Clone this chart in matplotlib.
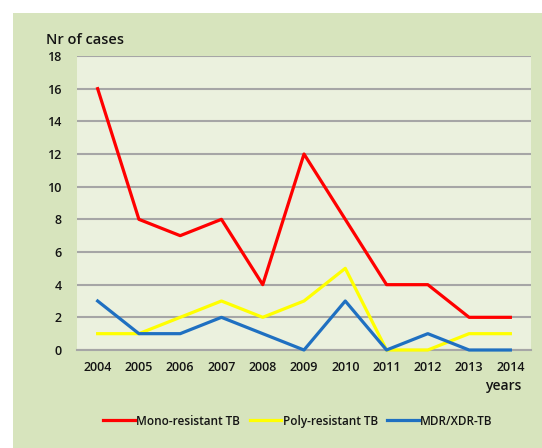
import matplotlib.pyplot as plt
from matplotlib.patches import Rectangle

years = ["2004", "2005", "2006", "2007", "2008", "2009", "2010", "2011", "2012", "2013", "2014"]
mono = [16, 8, 7, 8, 4, 12, 8, 4, 4, 2, 2]
poly = [1, 1, 2, 3, 2, 3, 5, 0, 0, 1, 1]
mdr = [3, 1, 1, 2, 1, 0, 3, 0, 1, 0, 0]
y_ticks = [0, 2, 4, 6, 8, 10, 12, 14, 16, 18]

plt.rcParams["font.family"] = ["Open Sans", "DejaVu Sans"]
plt.rcParams["font.weight"] = "semibold"
text_col = "#141414"

W, H = 542, 448
fig = plt.figure(figsize=(W / 100, H / 100), dpi=100)
fig.patch.set_facecolor("white")
bg = Rectangle((13 / W, 0), 1 - 13 / W, 1 - 13 / H, transform=fig.transFigure,
               facecolor="#d7e4bd", edgecolor="none", zorder=-10)
fig.add_artist(bg)

ax = fig.add_axes([77 / W, 1 - 350 / H, (531 - 77) / W, (350 - 56) / H])
ax.set_facecolor("#ebf1de")
x = range(len(years))
ax.plot(x, mono, color="#ff0000", lw=2.3, label="Mono-resistant TB", zorder=3, clip_on=False)
ax.plot(x, poly, color="#ffff00", lw=2.3, label="Poly-resistant TB", zorder=3, clip_on=False)
ax.plot(x, mdr, color="#1f70c1", lw=2.3, label="MDR/XDR-TB", zorder=3, clip_on=False)

ax.set_xlim(-0.5, len(years) - 0.5)
ax.set_ylim(0, 18)
ax.set_yticks(y_ticks)
ax.set_xticks(list(x))
ax.set_xticklabels(years)
ax.yaxis.grid(True, color="#a6a6a6", lw=1.5)
ax.set_axisbelow(True)
for s in ["left", "right", "top"]:
    ax.spines[s].set_visible(False)
ax.spines["bottom"].set_color("#a6a6a6")
ax.spines["bottom"].set_linewidth(1.5)
ax.tick_params(length=0, labelsize=9, colors=text_col)
ax.tick_params(axis="y", pad=11)
ax.tick_params(axis="x", pad=8)

fig.text(46 / W, 1 - 40 / H, "Nr of cases", fontsize=10.5, color=text_col, va="center")
fig.text(521 / W, 1 - 386 / H, "years", fontsize=10, color=text_col, va="center", ha="right")

fig.legend(loc="center", bbox_to_anchor=(298 / W, 1 - 421 / H), ncol=3, frameon=False,
           fontsize=8.5, handlelength=2.7, handletextpad=0.1, columnspacing=0.8,
           labelcolor=text_col)

fig.savefig("out.png", dpi=100)
